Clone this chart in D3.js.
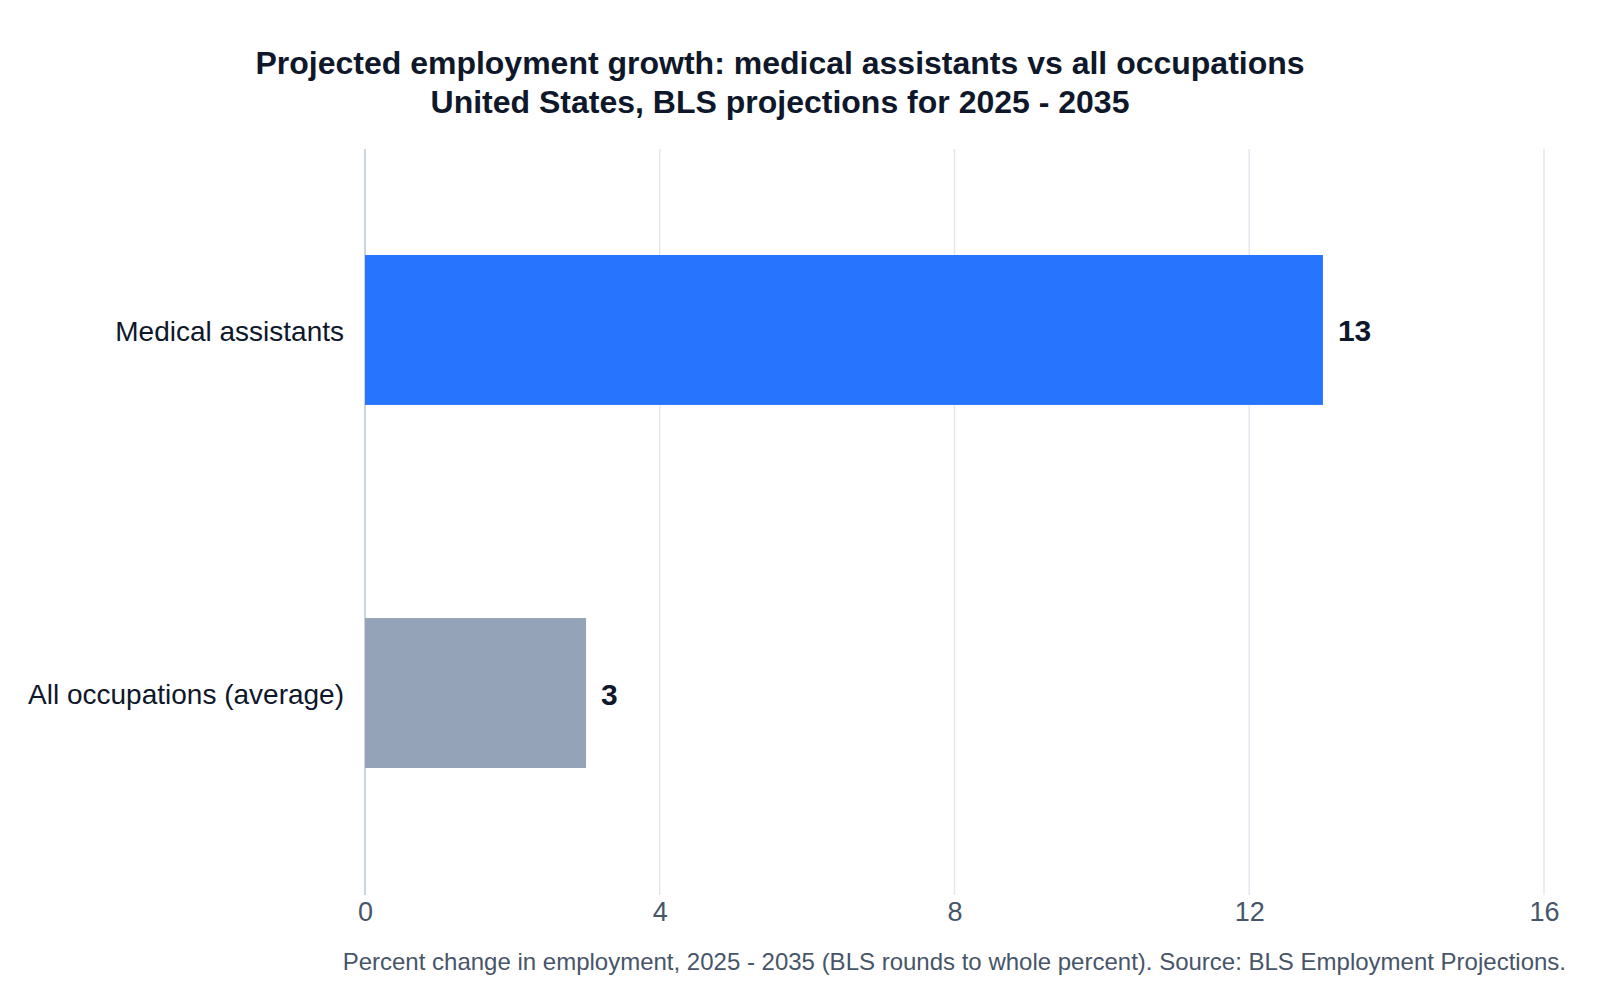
<!DOCTYPE html>
<html>
<head>
<meta charset="utf-8">
<script src="https://cdn.jsdelivr.net/npm/d3@7"></script>
<style>
  html, body { margin: 0; padding: 0; background: #ffffff; }
  svg { display: block; font-family: "Liberation Sans", Arial, sans-serif; }
</style>
</head>
<body>
<svg id="chart" width="1600" height="1000"></svg>
<script>
const categories = ["Medical assistants", "All occupations (average)"];
const values = [13, 3];
const barColors = ["#2775ff", "#94a3b8"];
const xTicks = [0, 4, 8, 12, 16];
const titleLines = [
  "Projected employment growth: medical assistants vs all occupations",
  "United States, BLS projections for 2025 - 2035"
];
const footnote = "Percent change in employment, 2025 - 2035 (BLS rounds to whole percent). Source: BLS Employment Projections.";

const svg = d3.select("#chart");
const plot = { left: 365, right: 1544, top: 149, bottom: 895 };

const x = d3.scaleLinear().domain([0, 16]).range([plot.left, plot.right]);
const y = d3.scaleBand().domain(categories).range([149, 874]).paddingInner(0.587).paddingOuter(0.292);

// gridlines
svg.append("g").selectAll("line").data(xTicks).join("line")
  .attr("x1", d => x(d)).attr("x2", d => x(d))
  .attr("y1", plot.top).attr("y2", plot.bottom)
  .attr("stroke", d => d === 0 ? "#cbd5e1" : "#e2e8f0")
  .attr("stroke-width", d => d === 0 ? 2 : 1.5);

// x axis tick labels
const xAxis = d3.axisBottom(x).tickValues(xTicks).tickSize(0).tickPadding(0);
const gx = svg.append("g").attr("transform", `translate(0,${plot.bottom + 26})`).call(xAxis);
gx.select(".domain").remove();
gx.selectAll("text").attr("font-size", 27).attr("fill", "#475569")
  .attr("font-family", "Liberation Sans, Arial, sans-serif")
  .attr("dy", 0).attr("y", 0);

// bars
svg.append("g").selectAll("rect").data(values).join("rect")
  .attr("x", x(0))
  .attr("y", (d, i) => y(categories[i]))
  .attr("width", d => x(d) - x(0))
  .attr("height", y.bandwidth())
  .attr("fill", (d, i) => barColors[i]);

// value labels
svg.append("g").selectAll("text").data(values).join("text")
  .attr("x", d => x(d) + 15)
  .attr("y", (d, i) => y(categories[i]) + y.bandwidth() / 2 + 1)
  .attr("dy", "0.35em")
  .attr("font-size", 30).attr("font-weight", "bold").attr("fill", "#0f172a")
  .text(d => d);

// category labels
const yAxis = d3.axisLeft(y).tickSize(0).tickPadding(21);
const gy = svg.append("g").attr("transform", `translate(${plot.left},2)`).call(yAxis);
gy.select(".domain").remove();
gy.selectAll("text").attr("font-size", 28).attr("fill", "#0f172a")
  .attr("font-family", "Liberation Sans, Arial, sans-serif");

// title
svg.append("g").selectAll("text").data(titleLines).join("text")
  .attr("x", 780)
  .attr("y", (d, i) => 73.5 + i * 39)
  .attr("text-anchor", "middle")
  .attr("font-size", 32).attr("font-weight", "bold").attr("fill", "#0f172a")
  .text(d => d);

// footnote
svg.append("text")
  .attr("x", 1566).attr("y", 970)
  .attr("text-anchor", "end")
  .attr("font-size", 24).attr("fill", "#475569")
  .text(footnote);
</script>
</body>
</html>
